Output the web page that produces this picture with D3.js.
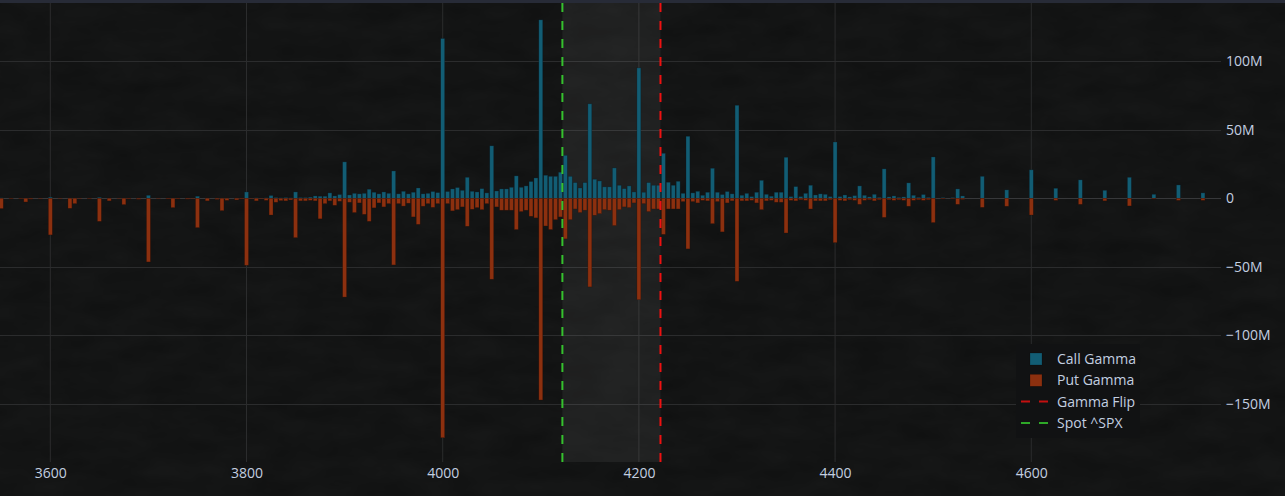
<!DOCTYPE html>
<html>
<head>
<meta charset="utf-8">
<script src="https://cdn.jsdelivr.net/npm/d3@7"></script>
<style>
html,body{margin:0;padding:0;background:#111212;}
svg{display:block;}
</style>
</head>
<body>
<svg id="chart" width="1285" height="496"></svg>
<script>
// ---- data (gamma exposure in millions) ----
const strikes = [
3550,3560,3570,3575,3580,3590,3600,3610,3620,3625,3630,3640,3650,3660,3670,3675,3680,3690,
3700,3710,3720,3725,3730,3740,3745,3750,3760,3770,3775,3780,3790,3795,
3800,3805,3810,3815,3820,3825,3830,3835,3840,3845,3850,3855,3860,3865,3870,3875,3880,3885,3890,3895,
3900,3905,3910,3915,3920,3925,3930,3935,3940,3945,3950,3955,3960,3965,3970,3975,3980,3985,3990,3995,
4000,4005,4010,4015,4020,4025,4030,4035,4040,4045,4050,4055,4060,4065,4070,4075,4080,4085,4090,4095,
4100,4105,4110,4115,4120,4125,4130,4135,4140,4145,4150,4155,4160,4165,4170,4175,4180,4185,4190,4195,
4200,4205,4210,4215,4220,4225,4230,4235,4240,4245,4250,4255,4260,4265,4270,4275,4280,4285,4290,4295,
4300,4305,4310,4315,4320,4325,4330,4335,4340,4345,4350,4355,4360,4365,4370,4375,4380,4385,4390,4395,
4400,4405,4410,4415,4420,4425,4430,4435,4440,4445,4450,4455,4460,4465,4470,4475,4480,4485,4490,4495,
4500,4510,4520,4525,4530,4550,4575,4600,4625,4650,4675,4700,4725,4750,4775
];
const callGamma = [
0.3,0,0,0.2,0,0,0.8,0,0,0,0,0,0.7,0,0,0,0,0,
2.2,0,0,0,0,0,0,1.5,0,0,0,0,0,0,
4.6,0,0.3,0,0.3,2.0,0.5,0.3,0.5,0.3,4.6,0.5,0.5,0.8,1.7,1.5,1.5,3.9,1.7,2.7,
26.5,2.4,3.6,3.2,3.6,6.6,4.4,3.2,4.6,3.6,19.9,3.2,5.1,3.2,4.4,7.5,3.2,3.6,4.9,4.1,
116.4,4.9,6.8,7.8,5.8,15.3,5.1,4.6,7.0,3.9,38.2,5.3,6.8,6.8,8.0,16.3,8.0,9.0,12.2,14.8,
130.0,16.8,16.0,16.0,19.0,31.3,16.0,11.4,7.5,11.4,68.8,13.9,12.6,8.3,8.3,22.1,9.5,7.0,9.0,4.6,
95.0,4.4,11.4,9.5,9.5,32.8,11.7,9.5,12.4,3.6,45.2,3.9,5.1,2.2,4.4,21.9,4.4,2.7,4.9,3.2,
67.8,2.2,3.6,1.2,4.4,13.1,2.9,1.5,4.4,4.4,29.9,1.2,8.5,1.2,3.6,9.5,2.4,3.2,2.9,1.2,
41.0,1.2,2.4,1.0,1.9,9.0,2.2,1.0,2.9,0.6,21.4,1.0,1.7,0.6,1.0,11.2,2.2,0.6,2.7,0.6,
30.1,0.5,0.5,6.8,1.7,16.0,6.1,20.7,7.3,13.4,5.8,15.3,2.9,9.7,3.9
];
const putGamma = [
-7.5,-0.4,-0.4,-2.7,-0.6,-0.3,-26.7,-0.3,-7.3,-3.9,-0.3,-0.4,-16.8,-1.9,-0.3,-4.6,-0.5,-0.7,
-46.4,-0.3,-0.5,-6.8,-0.5,-0.6,-0.3,-21.4,-1.9,-0.8,-9.0,-1.5,-1.2,-0.5,
-48.8,-0.3,-1.9,-0.3,-1.5,-12.2,-2.9,-1.7,-1.9,-1.2,-28.7,-1.9,-1.9,-1.5,-1.9,-15.0,-3.9,-1.9,-5.1,-2.2,
-72.0,-2.9,-10.4,-3.4,-11.7,-16.8,-7.0,-3.4,-6.3,-3.9,-48.6,-3.9,-5.7,-3.6,-13.6,-19.0,-5.8,-3.9,-6.6,-3.9,
-174.5,-3.9,-9.2,-8.3,-6.3,-20.4,-8.0,-6.8,-8.3,-3.9,-59.0,-6.3,-8.7,-8.7,-8.7,-22.8,-9.7,-8.7,-13.1,-14.3,
-147.0,-20.2,-22.8,-15.6,-13.6,-29.6,-15.6,-7.8,-10.4,-8.7,-64.6,-12.4,-11.2,-8.3,-8.7,-19.9,-8.3,-6.3,-6.8,-3.4,
-73.9,-3.9,-9.7,-7.8,-7.8,-26.3,-7.8,-7.8,-7.8,-2.4,-36.9,-2.4,-3.4,-1.5,-1.9,-18.5,-2.4,-24.5,-3.4,-1.9,
-60.5,-1.9,-1.9,-1.5,-3.4,-8.3,-1.9,-1.5,-2.9,-2.9,-25.3,-1.5,-1.9,-1.0,-1.5,-7.8,-1.9,-1.9,-1.9,-1.0,
-32.3,-1.5,-1.9,-1.0,-1.5,-4.4,-1.5,-1.0,-1.9,-1.0,-13.9,-1.0,-1.5,-1.0,-1.5,-5.8,-1.5,-1.0,-1.5,-1.0,
-17.7,-0.5,-0.5,-4.4,-0.8,-6.6,-5.8,-12.2,-1.5,-4.4,-1.9,-5.6,-0.5,-1.5,-1.5
];
const spotPrice = 4122;
const gammaFlip = 4222;
const xTicks = [3600, 3800, 4000, 4200, 4400, 4600];
const yTicks = [-150, -100, -50, 0, 50, 100];
const seriesNames = ["Call Gamma", "Put Gamma", "Gamma Flip", "Spot ^SPX"];

// ---- layout ----
const W = 1285, H = 496;
const plot = {left: 0, right: 1221, top: 3, bottom: 462};
const svg = d3.select("#chart");
const fontFam = "'Open Sans', 'Noto Sans', sans-serif";
const textColor = "#c3cfe0";
const callColor = "#125d74", putColor = "#8c300f";

const x = d3.scaleLinear().domain([3548.7, 4793.4]).range([plot.left, plot.right]);
const y = d3.scaleLinear().domain([-192.2, 142.3]).range([plot.bottom, plot.top]);

// background with subtle texture
const defs = svg.append("defs");
const f = defs.append("filter").attr("id", "noise").attr("x", 0).attr("y", 0).attr("width", "100%").attr("height", "100%");
f.append("feTurbulence").attr("type", "fractalNoise").attr("baseFrequency", "0.02 0.05").attr("numOctaves", 3).attr("seed", 7);
f.append("feColorMatrix").attr("type", "matrix")
  .attr("values", "0 0 0 0 1  0 0 0 0 1  0 0 0 0 1  0 0 0 0.035 0");
defs.append("clipPath").attr("id", "clip").append("rect")
  .attr("x", plot.left).attr("y", plot.top).attr("width", plot.right - plot.left).attr("height", plot.bottom - plot.top);

svg.append("rect").attr("width", W).attr("height", H).attr("fill", "#0f1010");
svg.append("rect").attr("width", W).attr("height", H).attr("filter", "url(#noise)");
svg.append("rect").attr("width", W).attr("height", 3).attr("fill", "#272b37");

// grid
const grid = svg.append("g");
grid.selectAll("line.vg").data(xTicks).enter().append("line")
  .attr("x1", d => x(d)).attr("x2", d => x(d)).attr("y1", plot.top).attr("y2", plot.bottom)
  .attr("stroke", "#2b2c2d").attr("stroke-width", 1);
grid.selectAll("line.hg").data(yTicks).enter().append("line")
  .attr("x1", plot.left).attr("x2", plot.right).attr("y1", d => Math.round(y(d)) + 0.5).attr("y2", d => Math.round(y(d)) + 0.5)
  .attr("stroke", d => d === 0 ? "#37383a" : "#2b2c2d").attr("stroke-width", 1);

// shaded region between spot and flip
svg.append("rect")
  .attr("x", x(spotPrice)).attr("width", x(gammaFlip) - x(spotPrice))
  .attr("y", plot.top).attr("height", plot.bottom - plot.top)
  .attr("fill", "rgba(255,255,255,0.06)");

// bars
const barW = (x(4) - x(0));
const data = strikes.map((s, i) => ({s, c: callGamma[i], p: putGamma[i]}));
const bars = svg.append("g").attr("clip-path", "url(#clip)");
bars.selectAll("rect.call").data(data).enter().append("rect")
  .attr("x", d => x(d.s) - barW / 2).attr("width", barW)
  .attr("y", d => y(Math.max(d.c, 0))).attr("height", d => Math.abs(y(d.c) - y(0)))
  .attr("fill", callColor).attr("stroke", "rgba(10,30,40,0.6)").attr("stroke-width", 0.5);
bars.selectAll("rect.put").data(data).enter().append("rect")
  .attr("x", d => x(d.s) - barW / 2).attr("width", barW)
  .attr("y", y(0)).attr("height", d => Math.abs(y(d.p) - y(0)))
  .attr("fill", putColor).attr("stroke", "rgba(50,15,5,0.6)").attr("stroke-width", 0.5);

// vertical reference lines
svg.append("line").attr("x1", x(spotPrice)).attr("x2", x(spotPrice)).attr("y1", plot.top).attr("y2", plot.bottom)
  .attr("stroke", "#36c12e").attr("stroke-width", 2).attr("stroke-dasharray", "9,9");
svg.append("line").attr("x1", x(gammaFlip)).attr("x2", x(gammaFlip)).attr("y1", plot.top).attr("y2", plot.bottom)
  .attr("stroke", "#ee1111").attr("stroke-width", 2).attr("stroke-dasharray", "9,9");

// axes
const fmtY = d => d === 0 ? "0" : (d < 0 ? "\u2212" + Math.abs(d) : d) + "M";
const yAxis = d3.axisRight(y).tickValues(yTicks).tickFormat(fmtY).tickSize(0).tickPadding(0);
const ya = svg.append("g").attr("transform", `translate(${plot.right + 5},0)`).call(yAxis);
ya.select(".domain").remove();
ya.selectAll("text").attr("fill", textColor).attr("font-size", 14).attr("font-family", fontFam).attr("x", 0);

const xAxis = d3.axisBottom(x).tickValues(xTicks).tickFormat(d3.format("d")).tickSize(0).tickPadding(0);
const xa = svg.append("g").attr("transform", `translate(0,${plot.bottom + 5})`).call(xAxis);
xa.select(".domain").remove();
xa.selectAll("text").attr("fill", textColor).attr("font-size", 14).attr("font-family", fontFam).attr("dy", "0.75em");

// legend
const lg = svg.append("g").attr("transform", "translate(1016,344)");
lg.append("rect").attr("width", 124).attr("height", 94).attr("fill", "#111213");
const rows = [
  {name: seriesNames[0], type: "box", color: callColor},
  {name: seriesNames[1], type: "box", color: putColor},
  {name: seriesNames[2], type: "line", color: "#c41010"},
  {name: seriesNames[3], type: "line", color: "#2ea828"}
];
rows.forEach((r, i) => {
  const cy = 15 + i * 21.3;
  if (r.type === "box") {
    lg.append("rect").attr("x", 14).attr("y", cy - 6).attr("width", 12).attr("height", 12).attr("fill", r.color)
      .attr("stroke", "rgba(0,0,0,0.4)").attr("stroke-width", 0.5);
  } else {
    lg.append("line").attr("x1", 5).attr("x2", 34).attr("y1", cy).attr("y2", cy)
      .attr("stroke", r.color).attr("stroke-width", 2).attr("stroke-dasharray", "9,9");
  }
  lg.append("text").attr("x", 41).attr("y", cy).attr("dy", "0.35em").text(r.name)
    .attr("fill", textColor).attr("font-size", 14).attr("font-family", fontFam);
});
</script>
</body>
</html>
